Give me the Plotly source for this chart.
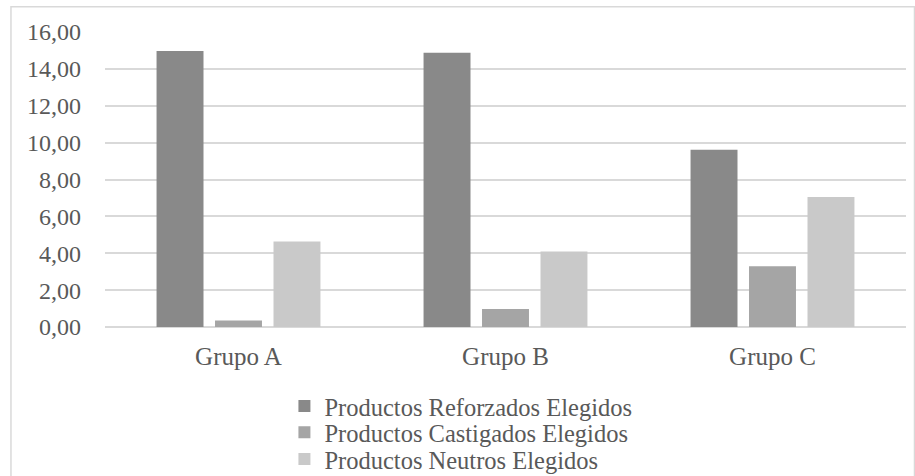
import plotly.graph_objects as go

categories = ["Grupo A", "Grupo B", "Grupo C"]
reforzados = [14.97, 14.88, 9.62]
castigados = [0.35, 0.97, 3.30]
neutros = [4.64, 4.10, 7.05]
series_names = ["Productos Reforzados Elegidos", "Productos Castigados Elegidos", "Productos Neutros Elegidos"]
colors = ["#898989", "#a5a5a5", "#c9c9c9"]
y_ticks = [0, 2, 4, 6, 8, 10, 12, 14, 16]

legend_ids = ["legend", "legend2", "legend3"]
legend_rows = [-0.268, -0.357, -0.448]

fig = go.Figure()
for name, vals, col, lid in zip(series_names, [reforzados, castigados, neutros], colors, legend_ids):
    fig.add_trace(go.Bar(x=categories, y=vals, name=name, legend=lid,
                         marker=dict(color=col, line=dict(width=0))))

font_family = "Liberation Serif"
legend_font = dict(family=font_family, size=24.5, color="#595959")
legend_common = dict(x=0.224, xanchor="left", yanchor="middle", font=legend_font,
                     itemwidth=30, bgcolor="rgba(0,0,0,0)", borderwidth=0)

fig.update_layout(
    width=915, height=476,
    margin=dict(l=105, r=9, t=32, b=149, autoexpand=False),
    paper_bgcolor="white", plot_bgcolor="white",
    separators=",.",
    barmode="group", bargap=0.343, bargroupgap=0.197,
    font=dict(family=font_family, size=24, color="#595959"),
    showlegend=True,
    legend=dict(y=legend_rows[0], **legend_common),
    legend2=dict(y=legend_rows[1], **legend_common),
    legend3=dict(y=legend_rows[2], **legend_common),
    xaxis=dict(showgrid=False, showline=False, ticks="", ticklabelstandoff=12,
               tickfont=dict(family=font_family, size=25, color="#595959")),
    yaxis=dict(range=[0, 16], tickvals=y_ticks, tickformat=".2f", showgrid=True,
               gridcolor="#d9d9d9", gridwidth=1.5, zeroline=True, zerolinecolor="#d9d9d9",
               zerolinewidth=1.5, showline=False, ticks="", ticklabelstandoff=23,
               tickfont=dict(family=font_family, size=24, color="#595959")),
    shapes=[dict(type="rect", xref="paper", yref="paper",
                 x0=-0.1174, x1=1.0106, y0=-0.52, y1=1.0859,
                 line=dict(color="#d9d9d9", width=1.5), fillcolor="rgba(0,0,0,0)", layer="below")],
)

fig.write_html("out.html")
